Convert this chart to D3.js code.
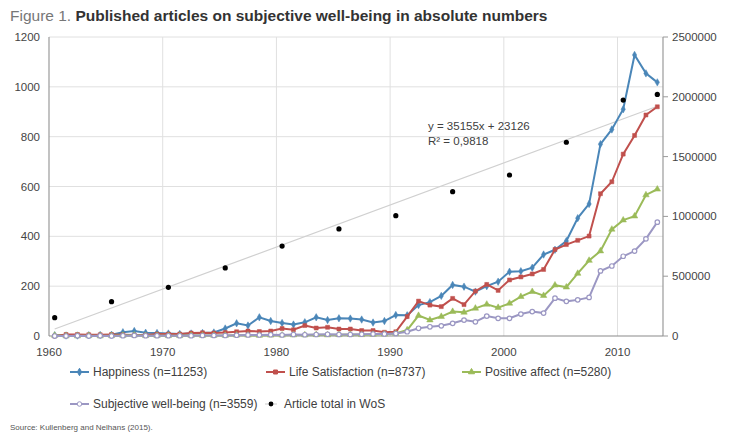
<!DOCTYPE html>
<html>
<meta charset="utf-8">
<head>
<title>Published articles on subjective well-being</title>
<style>
body { margin: 0; background: #fff; font-family: "Liberation Sans", Arial, sans-serif; }
</style>
<script src="https://d3js.org/d3.v7.min.js"></script>
</head>
<body>
<svg></svg>
<script>

var years = d3.range(1960, 2014);

var happiness = [3,2,2,3,4,5,15,20,13,12, 10,8,10,12,14,30,51,42,75,60, 52,46,55,75,64,71,70,66,54,60,
  84,83,124,136,161,205,198,178,200,218, 258,260,274,327,346,381,473,530,770,829, 910,1128,1054,1018];
var lifeSat = [0,6,6,5,5,6,5,4,4,8, 8,8,12,13,12,14,17,20,18,20, 30,25,42,32,35,28,28,22,22,15,
  17,78,140,124,118,151,126,180,207,183, 225,237,249,267,347,367,384,401,571,619, 730,805,887,920];
var posAffect = [2,0,0,1,0,1,2,3,1,1, 1,1,2,2,2,2,3,3,2,3, 3,4,4,5,4,5,6,5,6,7,
  10,24,82,64,78,98,95,111,127,114, 131,158,178,162,204,196,251,303,341,428, 465,481,566,589];
var swb = [0,0,1,0,1,0,1,2,1,1, 1,1,1,2,2,2,3,4,4,5, 4,6,5,6,7,6,6,7,8,8,
  10,17,31,37,41,51,64,57,80,71, 71,88,98,92,152,139,145,155,261,281, 320,341,390,457];

var wosYears = [1960,1965,1970,1975,1980,1985,1990,1995,2000,2005,2010,2013];
var wosTotal = [153000,287000,407000,569000,752000,895000,1006000,1207000,1346000,1620000,1973000,2020000];

var trendSlope = 35155, trendIntercept = 23126;

var leftTicks = [0,200,400,600,800,1000,1200];
var rightTicks = [0,500000,1000000,1500000,2000000,2500000];
var xTicks = [1960,1970,1980,1990,2000,2010];

var series = [
  {name: "Happiness (n=11253)", values: happiness, color: "#4a86b8", symbol: d3.symbolDiamond},
  {name: "Life Satisfaction (n=8737)", values: lifeSat, color: "#c0504d", symbol: d3.symbolSquare},
  {name: "Positive affect (n=5280)", values: posAffect, color: "#9bbb59", symbol: d3.symbolTriangle},
  {name: "Subjective well-being (n=3559)", values: swb, color: "#9b97c3", symbol: d3.symbolCircle}
];

var width = 730, height = 435;
var plotL = 49, plotR = 663, plotT = 37, plotB = 336;

var svg = d3.select("svg").attr("width", width).attr("height", height);

var x = d3.scaleLinear().domain([1960, 2014]).range([plotL, plotR]);
var y = d3.scaleLinear().domain([0, 1200]).range([plotB, plotT]);
var y2 = d3.scaleLinear().domain([0, 2500000]).range([plotB, plotT]);

// title
var title = svg.append("text").attr("x", 10).attr("y", 21).attr("font-size", 15.5);
title.append("tspan").attr("fill", "#777").text("Figure 1. ");
title.append("tspan").attr("fill", "#333").attr("font-weight", "bold")
  .text("Published articles on subjective well-being in absolute numbers");

// grid
svg.append("g").selectAll("line").data(leftTicks.slice(1)).enter().append("line")
  .attr("x1", plotL).attr("x2", plotR)
  .attr("y1", d => y(d)).attr("y2", d => y(d))
  .attr("stroke", "#e0e0e0").attr("stroke-width", 1);
svg.append("g").selectAll("line").data(xTicks.slice(1)).enter().append("line")
  .attr("x1", d => x(d)).attr("x2", d => x(d))
  .attr("y1", plotT).attr("y2", plotB)
  .attr("stroke", "#e0e0e0").attr("stroke-width", 1);

// axes lines
svg.append("line").attr("x1", plotL).attr("x2", plotL).attr("y1", plotT).attr("y2", plotB)
  .attr("stroke", "#9a9a9a").attr("stroke-width", 1.2);
svg.append("line").attr("x1", plotR).attr("x2", plotR).attr("y1", plotT).attr("y2", plotB)
  .attr("stroke", "#9a9a9a").attr("stroke-width", 1.2);
svg.append("line").attr("x1", plotL).attr("x2", plotR).attr("y1", plotB).attr("y2", plotB)
  .attr("stroke", "#8a8a8a").attr("stroke-width", 1.2);

// left labels
svg.append("g").selectAll("text").data(leftTicks).enter().append("text")
  .attr("x", 40).attr("y", d => y(d) + 4)
  .attr("text-anchor", "end").attr("font-size", 11.5).attr("fill", "#444")
  .text(d => d);

// right ticks + labels
svg.append("g").selectAll("line").data(rightTicks).enter().append("line")
  .attr("x1", plotR).attr("x2", plotR + 5)
  .attr("y1", d => y2(d)).attr("y2", d => y2(d))
  .attr("stroke", "#9a9a9a");
svg.append("g").selectAll("text").data(rightTicks).enter().append("text")
  .attr("x", 672).attr("y", d => y2(d) + 4)
  .attr("font-size", 11.5).attr("fill", "#444")
  .text(d => d);

// x labels
svg.append("g").selectAll("text").data(xTicks).enter().append("text")
  .attr("x", d => x(d)).attr("y", 356)
  .attr("text-anchor", "middle").attr("font-size", 11.5).attr("fill", "#444")
  .text(d => d);

// trendline (x = year index starting at 1)
var trend = [years[0], years[years.length - 1]].map(yr => ({
  yr: yr, v: trendSlope * (yr - 1959) + trendIntercept
}));
svg.append("path")
  .datum(trend)
  .attr("d", d3.line().x(d => x(d.yr + 0.5)).y(d => y2(d.v)))
  .attr("stroke", "#d0d0d0").attr("stroke-width", 1.2).attr("fill", "none");

svg.append("text").attr("x", 428).attr("y", 130).attr("font-size", 11.5).attr("fill", "#404040")
  .text("y = 35155x + 23126");
svg.append("text").attr("x", 428).attr("y", 145).attr("font-size", 11.5).attr("fill", "#404040")
  .text("R\u00b2 = 0,9818");

// series
var line = d3.line().x((d, i) => x(years[i] + 0.5)).y(d => y(d));
series.forEach(s => {
  svg.append("path").datum(s.values)
    .attr("d", line)
    .attr("fill", "none").attr("stroke", s.color).attr("stroke-width", 2);
  svg.append("g").selectAll("path").data(s.values).enter().append("path")
    .attr("transform", (d, i) => "translate(" + x(years[i] + 0.5) + "," + y(d) + ")")
    .attr("d", d3.symbol().type(s.symbol).size(s.symbol === d3.symbolTriangle ? 18 : 16))
    .attr("fill", s.symbol === d3.symbolCircle ? "#fff" : s.color)
    .attr("stroke", s.color).attr("stroke-width", s.symbol === d3.symbolCircle ? 1.2 : 0.5);
});

// WoS dots
svg.append("g").selectAll("circle").data(wosTotal).enter().append("circle")
  .attr("cx", (d, i) => x(wosYears[i] + 0.5))
  .attr("cy", d => y2(d))
  .attr("r", 2.6).attr("fill", "#000");

// legend
var legendItems = [
  {s: series[0], lx: 70, ly: 372},
  {s: series[1], lx: 266, ly: 372},
  {s: series[2], lx: 462, ly: 372},
  {s: series[3], lx: 70, ly: 404},
  {s: {name: "Article total in WoS", color: "#000", wos: true}, lx: 261, ly: 404}
];
var lg = svg.append("g");
legendItems.forEach(it => {
  if (!it.s.wos) {
    lg.append("line").attr("x1", it.lx).attr("x2", it.lx + 19)
      .attr("y1", it.ly).attr("y2", it.ly)
      .attr("stroke", it.s.color).attr("stroke-width", 2);
    lg.append("path")
      .attr("transform", "translate(" + (it.lx + 9.5) + "," + it.ly + ")")
      .attr("d", d3.symbol().type(it.s.symbol).size(16))
      .attr("fill", it.s.symbol === d3.symbolCircle ? "#fff" : it.s.color)
      .attr("stroke", it.s.color);
  } else {
    lg.append("line").attr("x1", it.lx + 4).attr("x2", it.lx + 16)
      .attr("y1", it.ly).attr("y2", it.ly)
      .attr("stroke", "#ccc").attr("stroke-width", 1);
    lg.append("circle").attr("cx", it.lx + 10).attr("cy", it.ly).attr("r", 2.4).attr("fill", "#000");
  }
  lg.append("text").attr("x", it.lx + 23).attr("y", it.ly + 4)
    .attr("font-size", 12).attr("fill", "#404040")
    .text(it.s.name);
});

// source
svg.append("text").attr("x", 10).attr("y", 430).attr("font-size", 8).attr("fill", "#555")
  .text("Source: Kullenberg and Nelhans (2015).");

</script>
</body>
</html>
